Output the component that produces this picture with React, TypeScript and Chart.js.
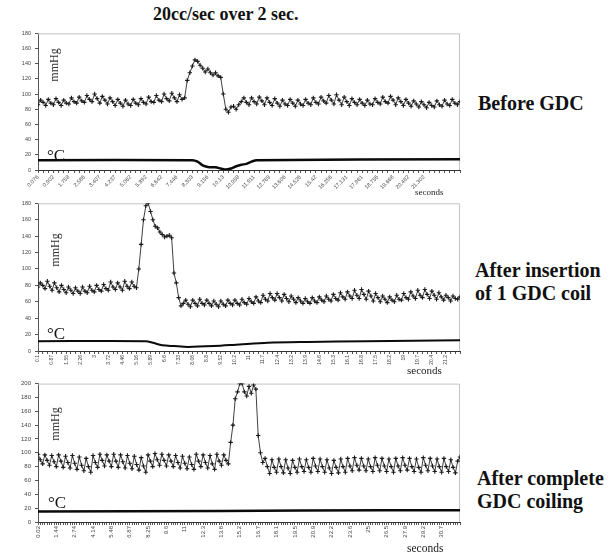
import React, { useEffect, useRef } from "react";
import { Chart, registerables } from "chart.js";

Chart.register(...registerables);

// ---------- Panel 1: Before GDC ----------
const beforeTimeLabels = ["0.076", "0.902", "1.758", "2.586", "3.407", "4.237", "5.062", "5.892", "6.642", "7.446", "8.303", "9.156", "10.13", "10.958", "11.911", "12.769", "13.606", "14.526", "15.42", "16.256", "17.131", "17.961", "18.756", "19.668", "20.482", "21.302"];
const beforePressure = [
  86, 92, 89, 85, 93, 88, 86, 94, 89, 85, 92, 88, 87, 95, 90, 88, 96, 91, 89, 98, 93, 90, 100, 94, 88, 97, 92, 87, 95, 90,
  85, 93, 88, 84, 92, 87, 85, 93, 88, 86, 94, 89, 87, 96, 90, 89, 98, 92, 90, 100, 94, 91, 101, 95, 90, 99, 93,
  95, 118, 128, 137, 145, 143, 138, 134, 129, 133, 128, 125, 128, 124, 122, 100, 80, 76, 83, 84, 80, 86, 90, 95, 89,
  86, 95, 90, 87, 96, 91, 86, 95, 89, 85, 94, 88, 84, 92, 87, 85, 93, 88, 84, 92, 87, 85, 93, 88, 86, 95, 89,
  87, 96, 91, 88, 98, 92, 87, 99, 92, 86, 96, 90, 85, 94, 89, 86, 93, 88, 85, 92, 87, 86, 94, 89, 87, 96, 90,
  88, 97, 92, 86, 95, 90, 85, 93, 88, 84, 91, 87, 83, 90, 86, 82, 89, 85, 83, 91, 86, 84, 92, 87, 85, 93, 88, 86, 90,
];
// [sample index, °C]
const beforeTemp: [number, number][] = [[0, 13], [60, 13], [62, 11], [64, 6], [66, 4], [69, 3.5], [71, 2], [73, 0.5], [75, 2], [77, 5], [79, 7], [81, 8], [83, 11], [85, 13], [164, 14]];

// ---------- Panel 2: After insertion of 1 GDC coil ----------
const oneCoilTimeLabels = ["0.1", "0.87", "1.55", "2.26", "3", "3.72", "4.46", "5.16", "5.89", "6.6", "7.33", "8.06", "8.8", "9.52", "10.2", "11", "11.7", "12.4", "13.2", "13.9", "14.6", "15.3", "16.1", "16.8", "17.5", "18.2", "19", "19.7", "20.4", "21.2"];
const oneCoilPressure = [
  78, 83, 80, 76, 85, 79, 74, 83, 77, 72, 80, 75, 71, 78, 74, 70, 77, 73, 70, 78, 73, 71, 79, 74, 72, 80, 75, 73, 81, 76,
  74, 84, 78, 75, 83, 78, 74, 85, 79, 76, 84, 79,
  77, 100, 130, 160, 177, 180, 170, 160, 152, 150, 145, 142, 139, 140, 141, 138, 95, 83, 65, 55, 58, 62, 57,
  54, 62, 58, 55, 63, 58, 56, 62, 58, 55, 61, 57, 54, 61, 57, 55, 62, 58, 56, 62, 58, 56, 63, 59, 57, 64, 60, 58, 66, 61,
  59, 68, 63, 61, 70, 65, 62, 70, 65, 61, 69, 64, 60, 67, 63, 59, 65, 61, 58, 64, 60, 58, 65, 61, 59, 66, 62, 60, 67, 63,
  61, 69, 64, 62, 71, 66, 63, 72, 67, 64, 74, 68, 64, 75, 69, 63, 73, 67, 61, 70, 65, 60, 67, 63, 59, 66, 62, 60, 68, 63,
  62, 70, 65, 63, 72, 67, 64, 74, 68, 65, 75, 69, 64, 73, 68, 63, 71, 66, 62, 68, 65, 61, 67, 64, 63, 66,
];
const oneCoilTemp: [number, number][] = [[0, 12], [46, 12], [49, 10], [53, 7], [58, 6], [64, 5], [75, 6], [86, 8], [98, 10], [115, 11], [140, 12], [180, 13]];

// ---------- Panel 3: After complete GDC coiling ----------
const completeTimeLabels = ["0.02", "1.44", "2.74", "4.14", "5.48", "6.87", "8.25", "9.6", "11", "12.3", "13.8", "15.2", "16.7", "18.1", "19.5", "20.9", "22.2", "23.6", "25", "26.5", "27.9", "29.2", "30.7"];
const completePressure = [
  98, 90, 84, 97, 89, 82, 96, 87, 80, 97, 88, 79, 95, 86, 78, 96, 85, 76, 94, 82, 74, 92, 80, 72, 96, 86, 79, 98, 89, 81,
  97, 88, 80, 98, 88, 79, 97, 87, 78, 96, 85, 77, 95, 83, 75, 93, 81, 72, 97, 88, 80, 99, 90, 82, 98, 89, 81, 97, 88, 80,
  96, 86, 78, 95, 85, 77, 94, 83, 76, 98, 88, 80, 97, 86, 78, 96, 84, 76, 98, 88, 82, 97, 89, 84,
  115, 140, 178, 188, 200, 200, 188, 182, 196, 186, 198, 192, 125, 100, 86,
  92, 80, 70, 90, 79, 72, 91, 80, 71, 90, 78, 70, 89, 79, 72, 91, 80, 73, 90, 79, 72, 92, 81, 73, 91, 80, 72, 90, 78, 70,
  89, 79, 71, 91, 80, 72, 92, 81, 74, 93, 82, 75, 92, 81, 74, 91, 80, 73, 93, 82, 74, 92, 81, 73, 91, 80, 72, 92, 81, 74,
  93, 82, 75, 92, 80, 73, 91, 79, 72, 93, 82, 74, 92, 81, 73, 91, 80, 72, 92, 80, 73, 90, 79, 71, 88, 94,
];
const completeTemp: [number, number][] = [[0, 15], [80, 16], [150, 17], [184, 17]];

const SERIF = "'Liberation Serif', 'DejaVu Serif', serif";
const SANS = "'Liberation Sans', Arial, sans-serif";

const topRightBox = {
  id: "topRightBox",
  beforeDatasetsDraw(chart: any) {
    const { ctx, chartArea: a } = chart;
    ctx.save();
    ctx.strokeStyle = "#c4c4c4";
    ctx.lineWidth = 1;
    ctx.beginPath();
    ctx.moveTo(a.left, a.top + 0.5);
    ctx.lineTo(a.right - 0.5, a.top + 0.5);
    ctx.lineTo(a.right - 0.5, a.bottom);
    ctx.stroke();
    ctx.restore();
  },
};

type PanelProps = {
  top: number;
  height: number;
  padTop: number;
  xAxisH: number;
  pressure: number[];
  temp: [number, number][];
  labels: string[];
  every: number;
  step: number;
  yMax: number;
  rotation: number;
  xFont: number;
  yFont: number;
  tempWidth: number;
};

const CANVAS_W = 470;
const Y_AXIS_W = 38;
const PLOT_RIGHT = 460;

function Panel(p: PanelProps) {
  const ref = useRef<HTMLCanvasElement | null>(null);
  useEffect(() => {
    if (!ref.current) return;
    const n = p.pressure.length;
    const chart = new Chart(ref.current, {
      type: "line",
      data: {
        datasets: [
          {
            data: p.pressure.map((v, i) => ({ x: i, y: v })),
            borderColor: "#404040",
            borderWidth: 1,
            pointStyle: "cross",
            pointRadius: 2.2,
            pointBorderWidth: 1.1,
            pointBorderColor: "#1a1a1a",
            pointBackgroundColor: "#1a1a1a",
            tension: 0,
          },
          {
            data: p.temp.map(([i, v]) => ({ x: i, y: v })),
            borderColor: "#0a0a0a",
            borderWidth: p.tempWidth,
            pointRadius: 0,
            tension: 0.3,
          },
        ],
      },
      options: {
        responsive: false,
        animation: false,
        events: [],
        layout: { padding: { top: p.padTop, right: CANVAS_W - PLOT_RIGHT, left: 0, bottom: 0 } },
        plugins: { legend: { display: false }, tooltip: { enabled: false } },
        scales: {
          x: {
            type: "linear",
            min: 0,
            max: n - 1,
            border: { color: "#333", width: 1 },
            grid: { drawOnChartArea: false, tickLength: 3, color: "#555" },
            ticks: {
              stepSize: p.step,
              autoSkip: false,
              minRotation: p.rotation,
              maxRotation: p.rotation,
              padding: 1,
              color: "#444",
              font: { size: p.xFont, family: SANS },
              callback: (v: any) => {
                const i = Math.round(Number(v));
                if (i % p.every !== 0) return "";
                const lab = p.labels[i / p.every];
                return lab === undefined ? "" : lab;
              },
            },
            afterFit: (s: any) => {
              s.height = p.xAxisH;
            },
          },
          y: {
            min: 0,
            max: p.yMax,
            border: { color: "#555", width: 1 },
            grid: { drawOnChartArea: false, tickLength: 3, color: "#555" },
            ticks: {
              stepSize: 20,
              padding: 4,
              color: "#444",
              font: { size: p.yFont, family: SANS },
            },
            afterFit: (s: any) => {
              s.width = Y_AXIS_W;
            },
          },
        },
      },
      plugins: [topRightBox],
    } as any);
    return () => chart.destroy();
  }, []);
  return (
    <canvas
      ref={ref}
      width={CANVAS_W}
      height={p.height}
      style={{ position: "absolute", left: 0, top: p.top, width: CANVAS_W, height: p.height }}
    />
  );
}

const abs = (left: number, top: number, extra: React.CSSProperties = {}): React.CSSProperties => ({
  position: "absolute",
  left,
  top,
  whiteSpace: "nowrap",
  lineHeight: 1,
  ...extra,
});

function MmHg({ cx, cy }: { cx: number; cy: number }) {
  return (
    <div
      style={abs(cx - 25, cy - 7, {
        width: 50,
        textAlign: "center",
        fontFamily: SERIF,
        fontSize: 12,
        color: "#333",
        transform: "rotate(-90deg)",
      })}
    >
      mmHg
    </div>
  );
}

function Deg({ left, top }: { left: number; top: number }) {
  return <div style={abs(left, top, { fontFamily: SERIF, fontSize: 17, color: "#111" })}>°C</div>;
}

function Seconds({ left, top, size }: { left: number; top: number; size: number }) {
  return <div style={abs(left, top, { fontFamily: SERIF, fontSize: size, color: "#222" })}>seconds</div>;
}

const sideLabel: React.CSSProperties = {
  fontFamily: SERIF,
  fontWeight: "bold",
  fontSize: 20,
  color: "#111",
  lineHeight: "23px",
};

export default function App() {
  return (
    <div style={{ position: "absolute", left: 0, top: 0, width: 614, height: 557, background: "#fff", overflow: "hidden" }}>
      <div style={abs(153, 5, { fontFamily: SERIF, fontWeight: "bold", fontSize: 18, color: "#111" })}>20cc/sec over 2 sec.</div>

      <Panel top={26} height={172} padTop={7} xAxisH={28} pressure={beforePressure} temp={beforeTemp}
        labels={beforeTimeLabels} every={6} step={2} yMax={180} rotation={45} xFont={5.5} yFont={5.5} tempWidth={2.5} />
      <MmHg cx={54} cy={66} />
      <Deg left={47} top={147} />
      <Seconds left={415} top={188} size={9} />

      <Panel top={196} height={176} padTop={6} xAxisH={21} pressure={oneCoilPressure} temp={oneCoilTemp}
        labels={oneCoilTimeLabels} every={6} step={2} yMax={180} rotation={90} xFont={5} yFont={5.5} tempWidth={2} />
      <MmHg cx={55} cy={251} />
      <Deg left={47} top={325} />
      <Seconds left={407} top={365} size={11} />

      <Panel top={376} height={170} padTop={6} xAxisH={24} pressure={completePressure} temp={completeTemp}
        labels={completeTimeLabels} every={8} step={1} yMax={200} rotation={90} xFont={6} yFont={6} tempWidth={2.5} />
      <MmHg cx={55} cy={425} />
      <Deg left={48} top={494} />
      <Seconds left={407} top={543} size={11.5} />

      <div style={abs(478, 92, sideLabel)}>Before GDC</div>
      <div style={abs(475, 259, sideLabel)}>After insertion<br />of 1 GDC coil</div>
      <div style={abs(477, 467, sideLabel)}>After complete<br />GDC coiling</div>
    </div>
  );
}
